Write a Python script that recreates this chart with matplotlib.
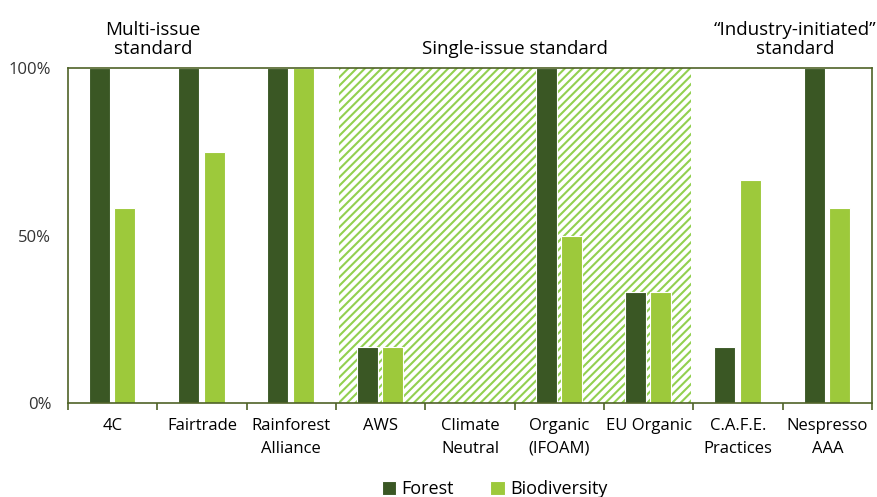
import numpy as np
import matplotlib.pyplot as plt

plt.rcParams['font.family'] = ['Open Sans', 'DejaVu Sans']
plt.rcParams['hatch.linewidth'] = 1.5

categories = ['4C', 'Fairtrade', 'Rainforest\nAlliance', 'AWS', 'Climate\nNeutral',
              'Organic\n(IFOAM)', 'EU Organic', 'C.A.F.E.\nPractices', 'Nespresso\nAAA']
forest = [100, 100, 100, 16.7, 0, 100, 33.3, 16.7, 100]
biodiversity = [58.3, 75, 100, 16.7, 0, 50, 33.3, 66.7, 58.3]

dark = '#3A5724'
light = '#9DC93B'
hatch_col = '#92D050'

fig = plt.figure(figsize=(8.77, 4.97), dpi=100)
ax = fig.add_axes([0.0775, 0.189, 0.917, 0.674])

x = np.arange(len(categories))

# hatched background for the single-issue standards
ax.axvspan(2.53, 6.47, ymin=0, ymax=1, facecolor='white', edgecolor=hatch_col,
           hatch='////', linewidth=0, zorder=0)

w = 0.235
ax.bar(x - 0.15, forest, w, color=dark, edgecolor='white', linewidth=0.8, label='Forest', zorder=2)
ax.bar(x + 0.135, biodiversity, w, color=light, edgecolor='white', linewidth=0.8, label='Biodiversity', zorder=2)

ax.set_xlim(-0.5, len(categories) - 0.5)
ax.set_ylim(0, 100)
ax.set_yticks([0, 50, 100])
ax.set_yticklabels(['0%', '50%', '100%'], fontsize=12, color='#333333')
ax.tick_params(axis='y', length=0, pad=12)

ax.set_xticks(x)
ax.set_xticklabels(categories, fontsize=12, linespacing=1.55)
ax.tick_params(axis='x', length=0, pad=11)
ax.set_xticks(np.arange(-0.5, len(categories)), minor=True)
ax.tick_params(axis='x', which='minor', length=5, direction='out', color='#4F6228', width=1.2)

for s in ax.spines.values():
    s.set_color('#4F6228')
    s.set_linewidth(1.2)

ax.text(0.45, 103, 'Multi-issue\nstandard', ha='center', va='bottom', fontsize=13.5, linespacing=1.1)
ax.text(4.5, 103, 'Single-issue standard', ha='center', va='bottom', fontsize=13.5)
ax.text(7.64, 103, '\u201cIndustry-initiated\u201d\nstandard', ha='center', va='bottom', fontsize=13.5, linespacing=1.1)

fig.legend(loc='lower center', bbox_to_anchor=(0.564, -0.035), ncol=2, frameon=False,
           fontsize=13, handlelength=0.8, handleheight=0.8, handletextpad=0.3, columnspacing=2.0)

fig.savefig('out.png', dpi=100)
